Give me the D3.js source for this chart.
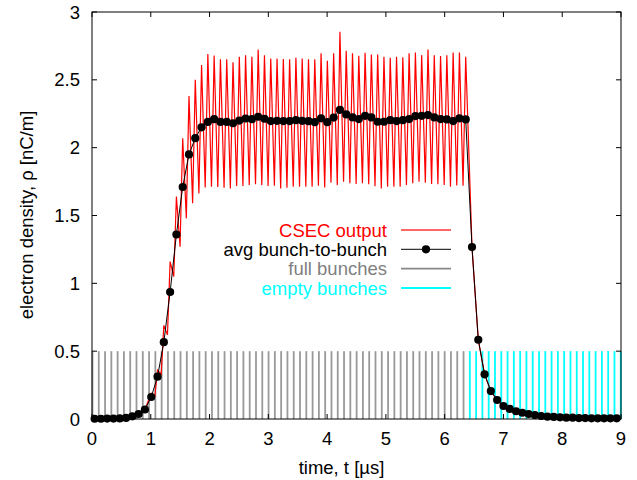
<!DOCTYPE html>
<html><head><meta charset="utf-8">
<script src="https://cdn.jsdelivr.net/npm/d3@7"></script>
<style>body{margin:0;background:#fff}text{font-family:"Liberation Sans",Arial,Helvetica,sans-serif}</style>
</head><body><svg id="c" width="637" height="480"></svg>
<script>
// ---- data ----
const bunchSpacing = 0.107;       // µs
const bunchStart = 0.008;         // µs, first bunch passage
const avgStart = 0.045;           // µs, first averaged point
const troughLag = 0.062;          // µs, trough after each peak
const nFull = 60, nEmpty = 25;
const xTicks = [0,1,2,3,4,5,6,7,8,9];
const yTicks = [0,0.5,1,1.5,2,2.5,3];
const yTickLabels = ["0","0.5","1","1.5","2","2.5","3"];
const bunchHeight = 0.5;

// avg bunch-to-bunch electron density (nC/m), one per bunch
const avgRho = [0.002,0.002,0.003,0.003,0.004,0.008,0.02,0.037,0.07,0.162,
  0.312,0.566,0.936,1.36,1.71,1.95,2.07,2.15,2.19,2.21,
  2.19,2.19,2.18,2.20,2.215,2.21,2.228,2.213,2.196,2.198,
  2.196,2.196,2.203,2.198,2.195,2.188,2.216,2.188,2.222,2.279,
  2.245,2.223,2.211,2.235,2.223,2.191,2.191,2.203,2.196,2.203,
  2.211,2.233,2.235,2.240,2.223,2.211,2.208,2.196,2.216,2.208,
  1.267,0.584,0.329,0.206,0.140,0.096,0.074,0.057,0.046,0.037,
  0.029,0.022,0.017,0.015,0.012,0.010,0.010,0.007,0.007,0.005,
  0.005,0.005,0.005,0.005];
// CSEC output: peak per bunch
const csecPeak = [0.002,0.002,0.003,0.003,0.004,0.008,0.02,0.037,0.07,0.19,
  0.36,0.69,1.16,1.64,2.07,2.38,2.50,2.61,2.69,2.68,
  2.651,2.651,2.629,2.670,2.682,2.670,2.724,2.682,2.658,2.658,
  2.653,2.651,2.662,2.658,2.651,2.651,2.695,2.641,2.695,2.854,
  2.714,2.695,2.677,2.699,2.687,2.687,2.670,2.662,2.670,2.666,
  2.695,2.702,2.682,2.724,2.682,2.675,2.682,2.702,2.702,2.670,
  1.267,0.584,0.329,0.206,0.140,0.096,0.074,0.057,0.046,0.037,
  0.029,0.022,0.017,0.015,0.012,0.010,0.010,0.007,0.007,0.005,
  0.005,0.005,0.005,0.005];
// CSEC output: trough following each peak (null = none)
const csecTrough = [null,null,null,null,null,null,null,null,null,0.17,
  0.33,0.62,1.05,1.27,1.479,1.590,1.663,1.707,1.712,1.71,
  1.705,1.700,1.717,1.717,1.724,1.730,1.724,1.717,1.719,1.700,
  1.705,1.712,1.712,1.712,1.712,1.719,1.707,1.741,1.724,1.749,
  1.737,1.732,1.737,1.730,1.715,1.700,1.712,1.712,1.712,1.724,
  1.737,1.749,1.741,1.732,1.730,1.725,1.712,1.722,1.719,null,
  null,null,null,null,null,null,null,null,null,null,
  null,null,null,null,null,null,null,null,null,null,
  null,null,null,null];
const legendLabels = ["CSEC output","avg bunch-to-bunch","full bunches","empty bunches"];
const colors = {csec:"#ff0000", avg:"#000000", full:"#999999", empty:"#00ffff"};

// ---- layout ----
const svg = d3.select("#c");
const L=92, R=621, T=12, B=419;
const x = d3.scaleLinear().domain([0,9]).range([L,R]);
const y = d3.scaleLinear().domain([0,3]).range([B,T]);
const fs = 18.5;
const rDot = 4.1;

// bunches
const bunches = d3.range(nFull+nEmpty).map(k=>({t:bunchStart+k*bunchSpacing, full:k<nFull}));
svg.append("g").selectAll("line").data(bunches).join("line")
  .attr("x1",d=>x(d.t)).attr("x2",d=>x(d.t))
  .attr("y1",y(0)).attr("y2",y(bunchHeight))
  .attr("stroke",d=>d.full?colors.full:colors.empty).attr("stroke-width",1.8);

// CSEC red zigzag
const redPts=[];
csecPeak.forEach((v,k)=>{
  const t=avgStart+k*bunchSpacing;
  redPts.push([t,v]);
  if(csecTrough[k]!==null) redPts.push([t+troughLag,csecTrough[k]]);
});
svg.append("path").datum(redPts)
  .attr("d",d3.line().x(d=>x(d[0])).y(d=>y(d[1])))
  .attr("fill","none").attr("stroke",colors.csec).attr("stroke-width",1.2);

// avg line + dots
const avgPts = avgRho.map((v,k)=>[avgStart+k*bunchSpacing,v]);
svg.append("path").datum(avgPts)
  .attr("d",d3.line().x(d=>x(d[0])).y(d=>y(d[1])))
  .attr("fill","none").attr("stroke",colors.avg).attr("stroke-width",1);
svg.append("g").selectAll("circle").data(avgPts).join("circle")
  .attr("cx",d=>x(d[0])).attr("cy",d=>y(d[1])).attr("r",rDot).attr("fill",colors.avg);

// frame
svg.append("rect").attr("x",L).attr("y",T).attr("width",R-L).attr("height",B-T)
  .attr("fill","none").attr("stroke","#000").attr("stroke-width",1);
const tl=5;
const g=svg.append("g").attr("stroke","#000").attr("stroke-width",1);
yTicks.forEach(v=>{
  g.append("line").attr("x1",L).attr("x2",L+tl).attr("y1",y(v)).attr("y2",y(v));
  g.append("line").attr("x1",R).attr("x2",R-tl).attr("y1",y(v)).attr("y2",y(v));
});
xTicks.forEach(v=>{
  g.append("line").attr("x1",x(v)).attr("x2",x(v)).attr("y1",B).attr("y2",B-tl);
  g.append("line").attr("x1",x(v)).attr("x2",x(v)).attr("y1",T).attr("y2",T+tl);
});
svg.append("g").selectAll("text").data(yTicks).join("text")
  .attr("x",80).attr("y",d=>y(d)).attr("dy","0.36em").attr("text-anchor","end")
  .attr("font-size",fs).text((d,i)=>yTickLabels[i]);
svg.append("g").selectAll("text").data(xTicks).join("text")
  .attr("x",d=>x(d)).attr("y",445).attr("text-anchor","middle")
  .attr("font-size",fs).text(d=>d);
svg.append("text").attr("x",341.5).attr("y",474).attr("text-anchor","middle")
  .attr("font-size",fs).text("time, t [µs]");
svg.append("text").attr("transform","translate(33,215) rotate(-90)").attr("text-anchor","middle")
  .attr("font-size",fs).text("electron density, ρ [nC/m]");

// legend
const ly=[230,249.3,268.6,288];
const lc=[colors.csec,colors.avg,"#808080",colors.empty];
legendLabels.forEach((s,i)=>{
  svg.append("text").attr("x",387).attr("y",ly[i]).attr("dy","0.36em").attr("text-anchor","end")
    .attr("font-size",fs).attr("fill",lc[i]).text(s);
  svg.append("line").attr("x1",401).attr("x2",451).attr("y1",ly[i]).attr("y2",ly[i])
    .attr("stroke",i===0?"#ff6666":(i===2?"#888888":lc[i])).attr("stroke-width",i===1?1:1.8);
});
svg.append("circle").attr("cx",426).attr("cy",ly[1]).attr("r",rDot).attr("fill","#000");
</script></body></html>
